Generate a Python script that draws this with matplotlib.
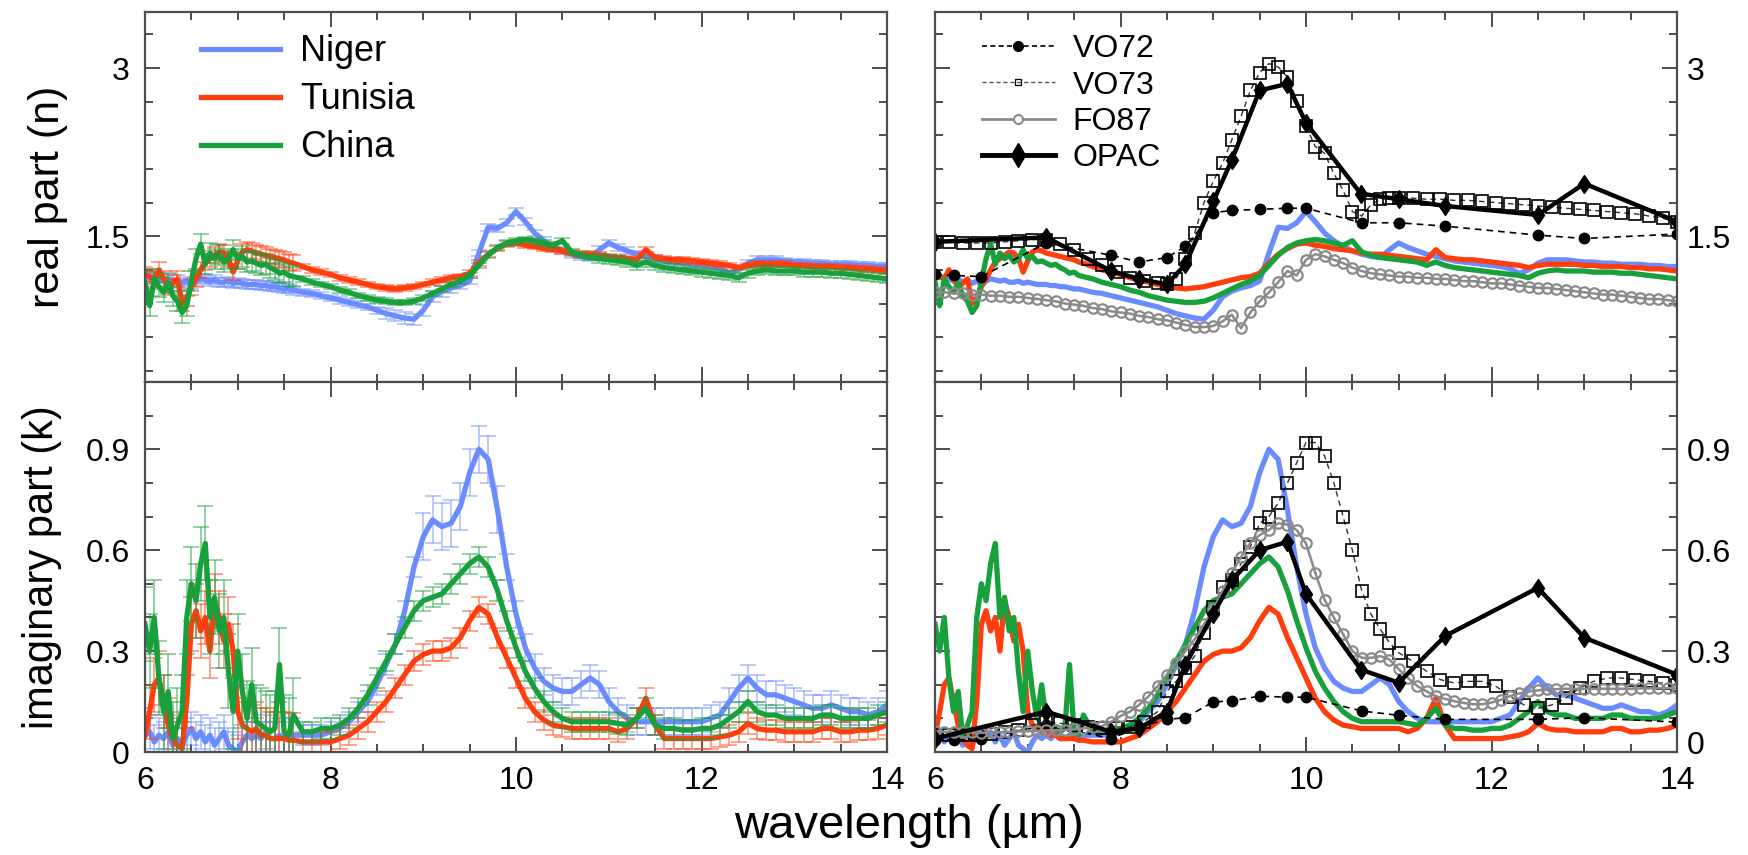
import matplotlib
matplotlib.use("Agg")
import matplotlib.pyplot as plt
from matplotlib.lines import Line2D
from matplotlib.ticker import MultipleLocator, FuncFormatter

plt.rcParams['font.family'] = ['Liberation Sans', 'DejaVu Sans']

# wavelength grid of the measured spectra (um)
wl = [6.00, 6.05, 6.10, 6.15, 6.20, 6.25, 6.30, 6.35, 6.40, 6.45, 6.50,
      6.55, 6.60, 6.65, 6.70, 6.75, 6.80, 6.85, 6.90, 6.95, 7.00, 7.05,
      7.10, 7.15, 7.20, 7.25, 7.30, 7.35, 7.40, 7.45, 7.50, 7.55, 7.60,
      7.7, 7.8, 7.9, 8.0, 8.1, 8.2, 8.3, 8.4, 8.5, 8.6, 8.7, 8.8, 8.9,
      9.0, 9.1, 9.2, 9.3, 9.4, 9.5, 9.6, 9.7, 9.8, 9.9, 10.0, 10.1, 10.2,
      10.3, 10.4, 10.5, 10.6, 10.7, 10.8, 10.9, 11.0, 11.1, 11.2, 11.3,
      11.4, 11.5, 11.6, 11.7, 11.8, 11.9, 12.0, 12.1, 12.2, 12.3, 12.4,
      12.5, 12.6, 12.7, 12.8, 12.9, 13.0, 13.1, 13.2, 13.3, 13.4, 13.5,
      13.6, 13.7, 13.8, 13.9, 14.0]

# real part n
niger_n = [1.15, 1.13, 1.14, 1.12, 1.10, 1.12, 1.09, 1.11, 1.08, 1.10, 1.07,
           1.10, 1.12, 1.11, 1.10, 1.11, 1.09, 1.09, 1.10, 1.08, 1.09, 1.08,
           1.07, 1.07, 1.07, 1.06, 1.06, 1.05, 1.05, 1.04, 1.03, 1.03, 1.02,
           1.00, 0.99, 0.97, 0.95, 0.93, 0.91, 0.89, 0.87, 0.84, 0.81, 0.79,
           0.77, 0.76, 0.84, 0.96, 1.01, 1.04, 1.06, 1.10, 1.35, 1.58, 1.57,
           1.62, 1.72, 1.63, 1.53, 1.46, 1.41, 1.37, 1.34, 1.32, 1.31, 1.38,
           1.44, 1.40, 1.37, 1.34, 1.32, 1.30, 1.28, 1.27, 1.26, 1.25, 1.24,
           1.23, 1.21, 1.17, 1.20, 1.26, 1.29, 1.29, 1.29, 1.28, 1.27, 1.27,
           1.26, 1.26, 1.25, 1.25, 1.25, 1.24, 1.24, 1.23, 1.23]
tunisia_n = [1.16, 1.14, 1.12, 1.20, 1.12, 1.05, 1.08, 1.12, 0.90, 0.95, 1.05,
             1.12, 1.20, 1.27, 1.30, 1.33, 1.36, 1.35, 1.30, 1.18, 1.28, 1.36,
             1.38, 1.37, 1.35, 1.34, 1.33, 1.32, 1.31, 1.30, 1.29, 1.27, 1.26,
             1.23, 1.20, 1.18, 1.16, 1.13, 1.11, 1.09, 1.07, 1.05, 1.04, 1.03,
             1.04, 1.05, 1.07, 1.09, 1.11, 1.13, 1.14, 1.17, 1.26, 1.34, 1.39,
             1.43, 1.44, 1.42, 1.41, 1.39, 1.38, 1.37, 1.35, 1.34, 1.34, 1.33,
             1.32, 1.31, 1.30, 1.29, 1.38, 1.31, 1.30, 1.29, 1.29, 1.28, 1.27,
             1.26, 1.25, 1.24, 1.22, 1.24, 1.25, 1.25, 1.25, 1.25, 1.24, 1.24,
             1.23, 1.23, 1.23, 1.22, 1.22, 1.21, 1.21, 1.20, 1.19]
china_n = [1.09, 0.88, 1.12, 1.05, 1.00, 1.08, 0.97, 0.92, 0.82, 0.88, 1.10,
           1.30, 1.43, 1.25, 1.35, 1.30, 1.33, 1.27, 1.30, 1.38, 1.30, 1.32,
           1.27, 1.28, 1.26, 1.24, 1.25, 1.22, 1.20, 1.17, 1.18, 1.15, 1.14,
           1.12, 1.09, 1.07, 1.05, 1.02, 1.00, 0.97, 0.95, 0.93, 0.92, 0.91,
           0.91, 0.92, 0.95, 0.99, 1.03, 1.07, 1.10, 1.15, 1.24, 1.33, 1.40,
           1.44, 1.46, 1.47, 1.46, 1.44, 1.42, 1.46, 1.36, 1.33, 1.31, 1.30,
           1.29, 1.28, 1.27, 1.24, 1.27, 1.24, 1.22, 1.21, 1.20, 1.19, 1.18,
           1.17, 1.16, 1.15, 1.13, 1.17, 1.19, 1.20, 1.19, 1.19, 1.19, 1.18,
           1.18, 1.18, 1.17, 1.17, 1.16, 1.15, 1.14, 1.13, 1.12]

# imaginary part k
niger_k = [0.05, 0.06, 0.03, 0.05, 0.04, 0.06, 0.02, 0.04, 0.02, 0.05, 0.07,
           0.04, 0.06, 0.03, 0.05, 0.02, 0.04, 0.06, 0.02, 0.01, 0.00, 0.03,
           0.05, 0.04, 0.05, 0.04, 0.06, 0.04, 0.04, 0.05, 0.04, 0.05, 0.05,
           0.05, 0.05, 0.05, 0.06, 0.07, 0.09, 0.12, 0.15, 0.20, 0.26, 0.32,
           0.42, 0.55, 0.64, 0.69, 0.67, 0.68, 0.73, 0.83, 0.90, 0.87, 0.72,
           0.55, 0.41, 0.31, 0.25, 0.21, 0.19, 0.18, 0.18, 0.20, 0.22, 0.20,
           0.15, 0.12, 0.10, 0.09, 0.09, 0.09, 0.09, 0.09, 0.09, 0.09, 0.09,
           0.10, 0.11, 0.15, 0.19, 0.22, 0.19, 0.17, 0.17, 0.16, 0.15, 0.14,
           0.13, 0.13, 0.14, 0.13, 0.12, 0.12, 0.11, 0.12, 0.14]
tunisia_k = [0.05, 0.12, 0.20, 0.22, 0.15, 0.08, 0.04, 0.02, 0.01, 0.15, 0.38,
             0.42, 0.36, 0.40, 0.30, 0.45, 0.40, 0.33, 0.38, 0.30, 0.12, 0.08,
             0.07, 0.06, 0.07, 0.05, 0.05, 0.04, 0.04, 0.04, 0.04, 0.035, 0.035,
             0.03, 0.03, 0.03, 0.03, 0.04, 0.05, 0.07, 0.09, 0.12, 0.15, 0.19,
             0.23, 0.27, 0.29, 0.30, 0.30, 0.31, 0.34, 0.39, 0.43, 0.41, 0.34,
             0.28, 0.22, 0.16, 0.12, 0.095, 0.08, 0.075, 0.07, 0.07, 0.07, 0.07,
             0.07, 0.06, 0.07, 0.10, 0.16, 0.08, 0.04, 0.04, 0.04, 0.04, 0.04,
             0.04, 0.045, 0.05, 0.06, 0.085, 0.07, 0.065, 0.065, 0.06, 0.06, 0.06,
             0.06, 0.07, 0.07, 0.06, 0.06, 0.065, 0.065, 0.07, 0.08]
china_k = [0.38, 0.30, 0.40, 0.22, 0.12, 0.18, 0.04, 0.08, 0.12, 0.40, 0.50,
           0.45, 0.56, 0.62, 0.40, 0.46, 0.36, 0.40, 0.24, 0.12, 0.30, 0.18,
           0.10, 0.20, 0.09, 0.08, 0.07, 0.06, 0.07, 0.26, 0.06, 0.05, 0.11,
           0.06, 0.06, 0.07, 0.07, 0.08, 0.10, 0.13, 0.17, 0.22, 0.27, 0.32,
           0.37, 0.42, 0.45, 0.46, 0.47, 0.50, 0.53, 0.56, 0.58, 0.55, 0.48,
           0.39, 0.31, 0.24, 0.19, 0.15, 0.12, 0.10, 0.09, 0.09, 0.09, 0.09,
           0.09, 0.085, 0.08, 0.10, 0.13, 0.08, 0.07, 0.07, 0.065, 0.065, 0.07,
           0.07, 0.08, 0.10, 0.12, 0.15, 0.12, 0.11, 0.11, 0.10, 0.10, 0.10,
           0.10, 0.11, 0.11, 0.10, 0.10, 0.10, 0.10, 0.11, 0.12]

# uncertainties (noisy 6-7.6 um band first, then the rest)
niger_n_err = [0.04] * 33 + [0.03] * 9 + [0.05] * 8 + [0.03] * 47
tunisia_n_err = [0.07] * 33 + [0.025] * 64
china_n_err = [0.09] * 33 + [0.025] * 32 + [0.04] * 32
niger_k_err = [0.05] * 33 + [0.03] * 13 + [0.07] * 9 + [0.04] * 42
tunisia_k_err = [0.08] * 33 + [0.03] * 64
china_k_err = [0.11] * 33 + [0.03] * 64

# literature datasets
vo72_wl = [6.0, 6.2, 6.5, 7.2, 7.9, 8.2, 8.5, 8.7, 9.0, 9.2, 9.5, 9.8, 10.0,
           10.6, 11.0, 11.5, 12.5, 13.0, 14.0]
vo72_n = [1.16, 1.15, 1.14, 1.44, 1.33, 1.27, 1.31, 1.41, 1.71, 1.73, 1.74,
          1.75, 1.75, 1.62, 1.62, 1.59, 1.51, 1.48, 1.52]
vo72_k = [0.036, 0.036, 0.04, 0.08, 0.04, 0.074, 0.097, 0.102, 0.149, 0.152,
          0.166, 0.163, 0.163, 0.122, 0.109, 0.097, 0.097, 0.102, 0.089]

vo73_wl = [6.0, 6.15, 6.3, 6.45, 6.6, 6.75, 6.9, 7.05, 7.2, 7.35, 7.5, 7.65,
           7.8, 7.95, 8.1, 8.25, 8.4, 8.5, 8.6, 8.7, 8.8, 8.9, 9.0, 9.1, 9.2,
           9.3, 9.4, 9.5, 9.6, 9.7, 9.8, 9.9, 10.0, 10.1, 10.2, 10.3, 10.4,
           10.5, 10.6, 10.7, 10.8, 10.9, 11.0, 11.15, 11.3, 11.45, 11.6, 11.75,
           11.9, 12.05, 12.2, 12.35, 12.5, 12.65, 12.8, 12.95, 13.1, 13.25,
           13.4, 13.55, 13.7, 13.85, 14.0]
vo73_n = [1.45, 1.45, 1.44, 1.44, 1.44, 1.45, 1.46, 1.47, 1.47, 1.43, 1.38,
          1.30, 1.24, 1.18, 1.13, 1.10, 1.08, 1.07, 1.12, 1.30, 1.53, 1.80,
          1.99, 2.15, 2.36, 2.57, 2.80, 2.96, 3.04, 3.01, 2.92, 2.71, 2.48,
          2.30, 2.24, 2.06, 1.91, 1.72, 1.68, 1.78, 1.83, 1.84, 1.84, 1.84,
          1.83, 1.83, 1.82, 1.82, 1.81, 1.80, 1.79, 1.78, 1.77, 1.76, 1.75,
          1.74, 1.73, 1.72, 1.71, 1.70, 1.68, 1.66, 1.63]
vo73_k = [0.05, 0.05, 0.05, 0.05, 0.055, 0.06, 0.065, 0.08, 0.09, 0.085, 0.08,
          0.075, 0.07, 0.07, 0.075, 0.09, 0.12, 0.18, 0.21, 0.25, 0.285, 0.355,
          0.43, 0.49, 0.51, 0.56, 0.61, 0.68, 0.70, 0.74, 0.80, 0.86, 0.92,
          0.92, 0.88, 0.80, 0.70, 0.60, 0.48, 0.41, 0.365, 0.325, 0.295, 0.27,
          0.24, 0.215, 0.205, 0.21, 0.21, 0.195, 0.165, 0.14, 0.13, 0.14, 0.16,
          0.19, 0.21, 0.22, 0.22, 0.215, 0.21, 0.205, 0.20]

fo87_wl = [6.0, 6.1, 6.2, 6.3, 6.4, 6.5, 6.6, 6.7, 6.8, 6.9, 7.0, 7.1, 7.2,
           7.3, 7.4, 7.5, 7.6, 7.7, 7.8, 7.9, 8.0, 8.1, 8.2, 8.3, 8.4, 8.5,
           8.6, 8.7, 8.8, 8.9, 9.0, 9.1, 9.2, 9.3, 9.4, 9.5, 9.6, 9.7, 9.8,
           9.9, 10.0, 10.1, 10.2, 10.3, 10.4, 10.5, 10.6, 10.7, 10.8, 10.9,
           11.0, 11.1, 11.2, 11.3, 11.4, 11.5, 11.6, 11.7, 11.8, 11.9, 12.0,
           12.1, 12.2, 12.3, 12.4, 12.5, 12.6, 12.7, 12.8, 12.9, 13.0, 13.1,
           13.2, 13.3, 13.4, 13.5, 13.6, 13.7, 13.8, 13.9, 14.0]
fo87_n = [1.00, 1.00, 0.99, 0.99, 0.98, 0.98, 0.97, 0.97, 0.96, 0.96, 0.95,
          0.94, 0.93, 0.92, 0.90, 0.89, 0.88, 0.86, 0.85, 0.83, 0.82, 0.81,
          0.79, 0.78, 0.76, 0.75, 0.73, 0.71, 0.69, 0.69, 0.70, 0.74, 0.80,
          0.68, 0.82, 0.92, 1.00, 1.09, 1.19, 1.15, 1.29, 1.34, 1.32, 1.29,
          1.26, 1.22, 1.19, 1.17, 1.16, 1.15, 1.14, 1.14, 1.13, 1.13, 1.12,
          1.12, 1.11, 1.10, 1.10, 1.09, 1.08, 1.08, 1.07, 1.06, 1.05, 1.04,
          1.04, 1.03, 1.02, 1.01, 1.00, 0.99, 0.98, 0.98, 0.97, 0.96, 0.95,
          0.94, 0.94, 0.93, 0.92]
fo87_k = [0.062, 0.060, 0.060, 0.058, 0.058, 0.057, 0.058, 0.059, 0.060,
          0.061, 0.062, 0.063, 0.064, 0.065, 0.066, 0.067, 0.070, 0.073,
          0.077, 0.090, 0.107, 0.120, 0.140, 0.165, 0.196, 0.230, 0.265,
          0.300, 0.335, 0.380, 0.424, 0.480, 0.533, 0.580, 0.622, 0.645,
          0.660, 0.680, 0.676, 0.660, 0.620, 0.533, 0.453, 0.400, 0.350,
          0.300, 0.280, 0.280, 0.285, 0.275, 0.246, 0.220, 0.196, 0.180,
          0.166, 0.158, 0.151, 0.146, 0.142, 0.142, 0.147, 0.155, 0.166,
          0.174, 0.180, 0.183, 0.186, 0.187, 0.188, 0.188, 0.188, 0.188,
          0.188, 0.188, 0.188, 0.188, 0.189, 0.189, 0.190, 0.190, 0.190]

opac_wl = [6.0, 7.2, 7.9, 8.2, 8.5, 8.7, 9.0, 9.2, 9.5, 9.8, 10.0, 10.591,
           11.0, 11.5, 12.5, 13.0, 14.0]
opac_n = [1.45, 1.49, 1.19, 1.12, 1.07, 1.25, 1.81, 2.18, 2.80, 2.86, 2.51,
          1.88, 1.83, 1.77, 1.69, 1.97, 1.63]
opac_k = [0.04, 0.12, 0.06, 0.07, 0.12, 0.26, 0.41, 0.51, 0.60, 0.625, 0.47,
          0.245, 0.206, 0.345, 0.488, 0.34, 0.23]

NIGER = '#6b8cff'
TUNISIA = '#ff3d0d'
CHINA = '#17a03c'
GREY = '#8a8a8a'
SPINE = '#4d4d4d'

sites = [
    ('Niger', NIGER, niger_n, niger_n_err, niger_k, niger_k_err),
    ('Tunisia', TUNISIA, tunisia_n, tunisia_n_err, tunisia_k, tunisia_k_err),
    ('China', CHINA, china_n, china_n_err, china_k, china_k_err),
]

W, H = 1748, 855
fig = plt.figure(figsize=(W / 100, H / 100), dpi=100)


def add_axes_px(x0, x1, y0, y1):
    return fig.add_axes([x0 / W, 1 - y1 / H, (x1 - x0) / W, (y1 - y0) / H])


ax_nl = add_axes_px(145, 887, 12, 382)
ax_kl = add_axes_px(145, 887, 382, 752)
ax_nr = add_axes_px(935, 1677, 12, 382)
ax_kr = add_axes_px(935, 1677, 382, 752)


def tick_text(v, pos):
    return '{:g}'.format(round(v, 3))


def style(ax, ylim, major, minor, right_labels, bottom_labels):
    ax.set_xlim(6, 14)
    ax.set_ylim(*ylim)
    ax.xaxis.set_major_locator(MultipleLocator(2))
    ax.xaxis.set_minor_locator(MultipleLocator(0.5))
    ax.yaxis.set_major_locator(MultipleLocator(major))
    ax.yaxis.set_minor_locator(MultipleLocator(minor))
    ax.yaxis.set_major_formatter(FuncFormatter(tick_text))
    ax.tick_params(which='both', direction='in', top=True, bottom=True,
                   left=True, right=True, color=SPINE, width=1.4,
                   labelsize=23)
    ax.tick_params(which='major', length=11)
    ax.tick_params(which='minor', length=5.5)
    ax.tick_params(axis='x', pad=10, labelbottom=bottom_labels)
    if right_labels:
        ax.tick_params(axis='y', labelleft=False, labelright=True, pad=7)
    else:
        ax.tick_params(axis='y', pad=11)
    for s in ax.spines.values():
        s.set_color(SPINE)
        s.set_linewidth(1.6)


style(ax_nl, (0.2, 3.5), 1.5, 0.3, False, False)
style(ax_kl, (0, 1.1), 0.3, 0.1, False, True)
style(ax_nr, (0.2, 3.5), 1.5, 0.3, True, False)
style(ax_kr, (0, 1.1), 0.3, 0.1, True, True)

# lower right: the "0" is set a touch higher so it clears the "14" below it
ax_kr.yaxis.set_major_formatter(
    FuncFormatter(lambda v, pos: '' if abs(v) < 1e-9 else tick_text(v, pos)))
ax_kr.annotate('0', xy=(1, 0), xycoords='axes fraction', xytext=(7, 4),
               textcoords='offset points', fontsize=23, ha='left',
               va='center', annotation_clip=False)

# measured spectra with error bars (left) and without (right)
for name, c, n, n_err, k, k_err in sites:
    ax_nl.errorbar(wl, n, yerr=n_err, fmt='none', ecolor=c, elinewidth=1.3,
                   capsize=6, capthick=1.3, alpha=0.5)
    ax_nl.plot(wl, n, color=c, lw=3.8, label=name)
    ax_kl.errorbar(wl, k, yerr=k_err, fmt='none', ecolor=c, elinewidth=1.3,
                   capsize=6, capthick=1.3, alpha=0.5)
    ax_kl.plot(wl, k, color=c, lw=3.8)
    ax_nr.plot(wl, n, color=c, lw=3.8)
    ax_kr.plot(wl, k, color=c, lw=3.8)

for ax, v72, v73, f87, op in [(ax_nr, vo72_n, vo73_n, fo87_n, opac_n),
                              (ax_kr, vo72_k, vo73_k, fo87_k, opac_k)]:
    ax.plot(vo72_wl, v72, color='black', ls=(0, (4, 3)), lw=1.2,
            marker='o', ms=7.5, mfc='black', mec='black')
    ax.plot(vo73_wl, v73, color='#333333', ls=(0, (4, 3)), lw=1.0,
            marker='s', ms=9, mfc='none', mec='black', mew=1.2)
    ax.plot(fo87_wl, f87, color=GREY, lw=1.8, marker='o', ms=7.5,
            mfc='none', mec=GREY, mew=1.6)
    ax.plot(opac_wl, op, color='black', lw=3.2, marker='d', ms=9.5,
            mfc='black', mec='black')

ax_nl.legend(loc='upper left', bbox_to_anchor=(0.075, 0.94), frameon=False,
             fontsize=26, handlelength=2.2, handletextpad=0.55,
             labelspacing=0.36, borderpad=0, borderaxespad=0)

ref_handles = [
    Line2D([], [], color='black', ls=(0, (3, 2)), lw=1.2, marker='o', ms=7,
           mfc='black', mec='black'),
    Line2D([], [], color='#555555', ls=(0, (3, 2)), lw=1.0, marker='s',
           ms=4.5, mfc='none', mec='black', mew=0.9),
    Line2D([], [], color=GREY, lw=2.0, marker='o', ms=6.5, mfc='white',
           mec=GREY, mew=1.5),
    Line2D([], [], color='black', lw=3.5, marker='d', ms=12, mfc='black',
           mec='black'),
]
ax_nr.legend(ref_handles, ['VO72', 'VO73', 'FO87', 'OPAC'], loc='upper left',
             bbox_to_anchor=(0.063, 0.94), frameon=False, fontsize=23,
             handlelength=2.3, handletextpad=0.55, labelspacing=0.2,
             borderpad=0, borderaxespad=0)

ax_nl.set_ylabel('real part (n)', fontsize=31, va='center')
ax_nl.yaxis.set_label_coords(-0.131, 0.5)
ax_kl.set_ylabel('imaginary part (k)', fontsize=30, va='center')
ax_kl.yaxis.set_label_coords(-0.139, 0.5)

fig.text(909 / W, 1 - 826 / H, 'wavelength (µm)', fontsize=34,
         ha='center', va='center')

fig.savefig('out.png', dpi=100)
